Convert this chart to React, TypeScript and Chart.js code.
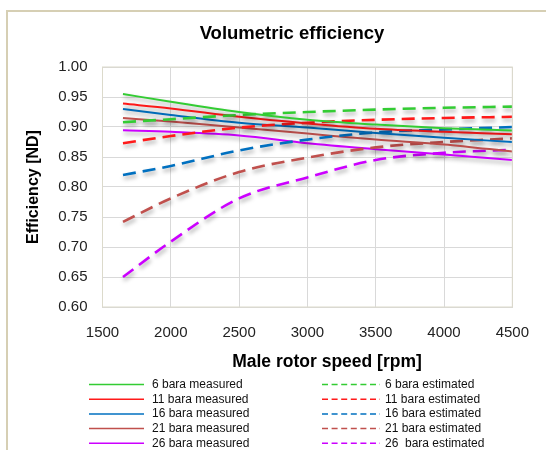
import React, { useEffect, useRef } from "react";
import { Chart, registerables } from "chart.js";

Chart.register(...registerables);

// ---- data ----
const speeds = [1650, 2000, 2500, 3000, 3500, 4000, 4500];

const measured6 = [0.955, 0.942, 0.925, 0.912, 0.904, 0.898, 0.894];
const estimated6 = [0.908, 0.913, 0.92, 0.925, 0.929, 0.932, 0.934];
const measured11 = [0.939, 0.931, 0.917, 0.906, 0.897, 0.892, 0.888];
const estimated11 = [0.873, 0.885, 0.899, 0.907, 0.912, 0.915, 0.917];
const measured16 = [0.93, 0.92, 0.907, 0.899, 0.89, 0.882, 0.875];
const estimated16 = [0.82, 0.835, 0.861, 0.879, 0.891, 0.896, 0.9];
const measured21 = [0.915, 0.909, 0.899, 0.889, 0.879, 0.871, 0.859];
const estimated21 = [0.742, 0.781, 0.825, 0.849, 0.866, 0.875, 0.881];
const measured26 = [0.8945, 0.892, 0.886, 0.873, 0.863, 0.854, 0.845];
const estimated26 = [0.65, 0.709, 0.781, 0.816, 0.845, 0.857, 0.862];

const measuredLabels = [
  "6 bara measured",
  "11 bara measured",
  "16 bara measured",
  "21 bara measured",
  "26 bara measured",
];
const estimatedLabels = [
  "6 bara estimated",
  "11 bara estimated",
  "16 bara estimated",
  "21 bara estimated",
  "26  bara estimated",
];
const measuredSeries = [measured6, measured11, measured16, measured21, measured26];
const estimatedSeries = [estimated6, estimated11, estimated16, estimated21, estimated26];

const xTickMin = 1500;
const xTickMax = 4500;
const xTickStep = 500;
const yTickMin = 0.6;
const yTickMax = 1.0;
const yTickStep = 0.05;

const chartTitle = "Volumetric efficiency";
const xTitle = "Male rotor speed [rpm]";
const yTitle = "Efficiency [ND]";

// ---- styles ----
const seriesColors = ["#33cc33", "#ff1a1a", "#0070c0", "#c0504d", "#cc00ff"];
const FONT = '"Liberation Sans", Arial, sans-serif';

const framePlugin = {
  id: "frame",
  beforeDraw(chart: any) {
    const ctx = chart.ctx;
    ctx.save();
    ctx.fillStyle = "#ffffff";
    ctx.fillRect(0, 0, chart.width, chart.height);
    ctx.strokeStyle = "#d6cfb4";
    ctx.lineWidth = 2;
    ctx.beginPath();
    ctx.moveTo(7, chart.height);
    ctx.lineTo(7, 11);
    ctx.lineTo(chart.width, 11);
    ctx.stroke();
    ctx.restore();
  },
  afterDraw(chart: any) {
    const ctx = chart.ctx;
    const a = chart.chartArea;
    ctx.save();
    ctx.strokeStyle = "#dcdacb";
    ctx.lineWidth = 1;
    ctx.strokeRect(a.left, a.top, a.right - a.left, a.bottom - a.top);
    // chart title
    ctx.fillStyle = "#000";
    ctx.font = `bold 18.5px ${FONT}`;
    ctx.textAlign = "center";
    ctx.textBaseline = "middle";
    ctx.fillText(chartTitle, 292, 34);
    // x axis title
    ctx.font = `bold 17.5px ${FONT}`;
    ctx.fillText(xTitle, 327, 362);
    // legend
    const rowY0 = 384.5;
    const rowH = 14.7;
    ctx.font = `12px ${FONT}`;
    ctx.textAlign = "left";
    for (let i = 0; i < 5; i++) {
      const y = rowY0 + i * rowH;
      const m = chart.data.datasets[i * 2];
      const e = chart.data.datasets[i * 2 + 1];
      ctx.strokeStyle = m.borderColor;
      ctx.lineWidth = 1.5;
      ctx.setLineDash([]);
      ctx.beginPath();
      ctx.moveTo(89, y);
      ctx.lineTo(144, y);
      ctx.stroke();
      ctx.fillStyle = "#111";
      ctx.fillText(m.label, 152, y);
      ctx.strokeStyle = e.borderColor;
      ctx.setLineDash([6, 3.6]);
      ctx.beginPath();
      ctx.moveTo(322, y);
      ctx.lineTo(380, y);
      ctx.stroke();
      ctx.setLineDash([]);
      ctx.fillText(e.label, 385, y);
    }
    ctx.restore();
  },
};

const shadowPlugin = {
  id: "lineShadow",
  beforeDatasetDraw(chart: any) {
    const ctx = chart.ctx;
    ctx.save();
    ctx.shadowColor = "rgba(0,0,0,0.35)";
    ctx.shadowBlur = 4;
    ctx.shadowOffsetX = 1;
    ctx.shadowOffsetY = 3;
  },
  afterDatasetDraw(chart: any) {
    chart.ctx.restore();
  },
};

export default function App() {
  const ref = useRef<HTMLCanvasElement>(null);

  useEffect(() => {
    if (!ref.current) return;
    const mk = (label: string, vals: number[], color: string, dashed: boolean) => ({
      label,
      data: speeds.map((x, i) => ({ x, y: vals[i] })),
      borderColor: color,
      backgroundColor: color,
      borderWidth: dashed ? 2.6 : 2,
      borderDash: dashed ? [13, 7] : [],
      pointRadius: 0,
      fill: false,
      cubicInterpolationMode: "monotone" as const,
    });
    const datasets: any[] = [];
    for (let i = 0; i < 5; i++) {
      datasets.push(mk(measuredLabels[i], measuredSeries[i], seriesColors[i], false));
      datasets.push(mk(estimatedLabels[i], estimatedSeries[i], seriesColors[i], true));
    }
    const tickFont = { family: FONT, size: 15 };
    const chart = new Chart(ref.current, {
      type: "line",
      data: { datasets },
      options: {
        animation: false,
        responsive: false,
        layout: { padding: { left: 0, right: 26, top: 67, bottom: 76 } },
        plugins: {
          legend: { display: false },
          title: { display: false },
          tooltip: { enabled: false },
        },
        scales: {
          x: {
            type: "linear",
            min: xTickMin,
            max: xTickMax,
            ticks: {
              stepSize: xTickStep,
              font: tickFont,
              color: "#222",
              padding: 17,
              maxRotation: 0,
              callback: (v: any) => String(v),
            },
            grid: { color: "#d9d9d9", drawTicks: false },
            border: { color: "#d9d9d9" },
            afterFit: (s: any) => {
              s.height = 67;
            },
          },
          y: {
            min: yTickMin,
            max: yTickMax,
            ticks: {
              stepSize: yTickStep,
              font: tickFont,
              color: "#222",
              padding: 15,
              callback: (v: any) => Number(v).toFixed(2),
            },
            grid: { color: "#d9d9d9", drawTicks: false },
            border: { color: "#d9d9d9" },
            title: {
              display: true,
              text: yTitle,
              color: "#000",
              font: { family: FONT, size: 16, weight: "bold" },
              padding: { top: 23.5, bottom: 0 },
            },
            afterFit: (s: any) => {
              s.width = 102.5;
            },
          },
        },
      } as any,
      plugins: [framePlugin, shadowPlugin],
    });
    return () => chart.destroy();
  }, []);

  return (
    <div style={{ position: "fixed", left: 0, top: 0, width: 546, height: 450, background: "#fff" }}>
      <canvas ref={ref} width={546} height={450} style={{ display: "block", width: 546, height: 450 }} />
    </div>
  );
}
